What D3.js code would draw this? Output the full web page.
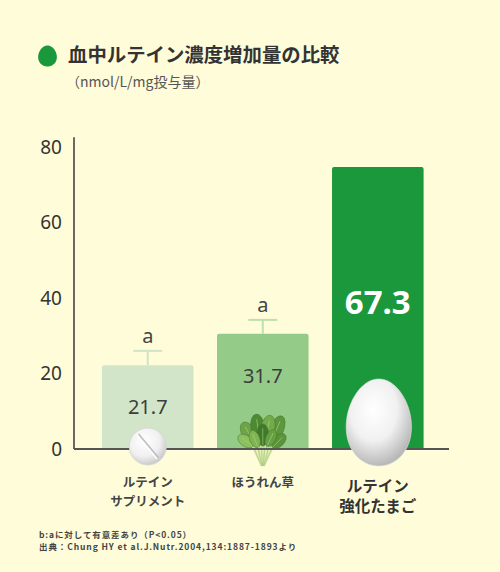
<!DOCTYPE html>
<html>
<head>
<meta charset="utf-8">
<script src="https://cdn.jsdelivr.net/npm/d3@7"></script>
<style>
	html, body { margin: 0; padding: 0; background: #fffcd9; }
	svg { display: block; font-family: "Noto Sans", "Noto Sans CJK JP", sans-serif; }
	.jp { font-family: "Noto Sans CJK JP", "Noto Sans", sans-serif; }
</style>
</head>
<body>
<div id="chart"></div>
<script>
const categories = ['supplement', 'spinach', 'egg']
const labelLines = [['ルテイン', 'サプリメント'], ['ほうれん草'], ['ルテイン', '強化たまご']]
const means = ['21.7', '31.7', '67.3']
// bar heights and error tops
const barHeights = [22.2, 30.5, 74.7]
const errTops = [26, 34.2, null]
const sigLetters = ['a', 'a', null]
const yTicks = [0, 20, 40, 60, 80]
const barColors = ['#d2e5c9', '#95cb89', '#1a983b']
const errColors = ['#cfe4c4', '#bde0b1', null]

const W = 500, H = 572

const $svg = d3.select('#chart').append('svg')
	.attr('width', W)
	.attr('height', H)

const defs = $svg.append('defs')

const eggGrad = defs.append('radialGradient')
	.attr('id', 'eggGrad')
	.attr('cx', '42%').attr('cy', '35%').attr('r', '65%')
eggGrad.append('stop').attr('offset', '0%').attr('stop-color', '#ffffff')
eggGrad.append('stop').attr('offset', '55%').attr('stop-color', '#f1f1f1')
eggGrad.append('stop').attr('offset', '100%').attr('stop-color', '#b9b9b9')

const pillGrad = defs.append('radialGradient')
	.attr('id', 'pillGrad')
	.attr('cx', '40%').attr('cy', '35%').attr('r', '70%')
pillGrad.append('stop').attr('offset', '0%').attr('stop-color', '#ffffff')
pillGrad.append('stop').attr('offset', '60%').attr('stop-color', '#f0f0f0')
pillGrad.append('stop').attr('offset', '100%').attr('stop-color', '#c4c4c4')

// Title

function eggPath(cx, cy, rx, ry) {
	const pts = d3.range(0, 64).map(i => {
		const t = i / 64 * Math.PI * 2
		return [cx + rx * Math.cos(t) * (1 + 0.1 * Math.sin(t)), cy + ry * Math.sin(t)]
	})
	return d3.line().curve(d3.curveCardinalClosed)(pts)
}

$svg.append('path')
	.attr('d', eggPath(47.5, 56, 9.3, 10.5))
	.attr('fill', '#1a983b')

$svg.append('text')
	.attr('class', 'jp')
	.attr('x', 68)
	.attr('y', 62)
	.attr('font-size', 19.4)
	.attr('font-weight', 700)
	.attr('fill', '#333')
	.text('血中ルテイン濃度増加量の比較')

$svg.append('text')
	.attr('class', 'jp')
	.attr('x', 66)
	.attr('y', 87)
	.attr('font-size', 14)
	.attr('fill', '#555')
	.text('（nmol/L/mg投与量）')

// Scales

const x = d3.scaleBand()
	.domain(categories)
	.range([74, 449])
	.paddingInner(0.204)
	.paddingOuter(0.232)
	.align(0.524)

const y = d3.scaleLinear()
	.domain([0, 80])
	.range([449, 147])

const bw = x.bandwidth()
const cx = d => x(d) + bw / 2

// Bars

const $bars = $svg.append('g')
$bars.selectAll('path')
	.data(categories)
	.enter()
	.append('path')
	.attr('d', (d, i) => {
		const x0 = x(d), x1 = x(d) + bw, y0 = y(0), y1 = y(barHeights[i]), r = 2
		return `M${x0},${y0}V${y1 + r}Q${x0},${y1} ${x0 + r},${y1}H${x1 - r}Q${x1},${y1} ${x1},${y1 + r}V${y0}Z`
	})
	.attr('fill', (d, i) => barColors[i])

// Error bars

const errData = categories.map((d, i) => ({ d, i })).filter(e => errTops[e.i] != null)
const $err = $svg.append('g')
$err.selectAll('line.v')
	.data(errData)
	.enter()
	.append('line')
	.attr('x1', e => cx(e.d)).attr('x2', e => cx(e.d))
	.attr('y1', e => y(barHeights[e.i])).attr('y2', e => y(errTops[e.i]))
	.attr('stroke', e => errColors[e.i])
	.attr('stroke-width', 2)
$err.selectAll('line.h')
	.data(errData)
	.enter()
	.append('line')
	.attr('x1', e => cx(e.d) - 14.5).attr('x2', e => cx(e.d) + 14.5)
	.attr('y1', e => y(errTops[e.i])).attr('y2', e => y(errTops[e.i]))
	.attr('stroke', e => errColors[e.i])
	.attr('stroke-width', 2)

$err.selectAll('text')
	.data(errData)
	.enter()
	.append('text')
	.attr('x', e => cx(e.d))
	.attr('y', e => y(errTops[e.i]) - 8)
	.attr('text-anchor', 'middle')
	.attr('font-size', 20)
	.attr('fill', '#444')
	.text(e => sigLetters[e.i])

// Value labels

$svg.append('g').selectAll('text')
	.data(categories)
	.enter()
	.append('text')
	.attr('x', d => cx(d))
	.attr('y', (d, i) => i < 2 ? y(barHeights[i]) + 49 : 314)
	.attr('text-anchor', 'middle')
	.attr('font-size', (d, i) => i < 2 ? 20 : 33)
	.attr('font-weight', (d, i) => i < 2 ? 400 : 700)
	.attr('fill', (d, i) => i < 2 ? '#3d3d3d' : '#fff')
	.text((d, i) => means[i])

// Axes

$svg.append('line')
	.attr('x1', 74).attr('x2', 74)
	.attr('y1', y(82.6)).attr('y2', y(0))
	.attr('stroke', '#444')
	.attr('stroke-width', 1.6)

const $yAxis = $svg.append('g')
	.attr('transform', 'translate(74,0)')
	.call(d3.axisLeft(y).tickValues(yTicks).tickSize(0).tickPadding(12))
$yAxis.select('.domain').remove()
$yAxis.selectAll('text')
	.attr('font-size', 19)
	.attr('font-family', '"Noto Sans", sans-serif')
	.attr('fill', '#333')

// spinach
const spX = cx('spinach'), spY = y(0)
const $sp = $svg.append('g').attr('transform', `translate(${spX},${spY})`)
const stems = [[-12, -8], [-7, -12], [-2, -14], [3, -13], [8, -10], [12, -6]]
stems.forEach(s => {
	$sp.append('path')
		.attr('d', `M${s[0] * 0.08},17 Q${s[0] * 0.5},6 ${s[0]},${s[1]}`)
		.attr('stroke', '#d6e6ab')
		.attr('stroke-width', 2.4)
		.attr('fill', 'none')
})
stems.forEach(s => {
	$sp.append('path')
		.attr('d', `M${s[0] * 0.08},17 Q${s[0] * 0.5},6 ${s[0]},${s[1]}`)
		.attr('stroke', '#9cbf6a')
		.attr('stroke-width', 0.5)
		.attr('fill', 'none')
})
const leaves = [
	[-14, -16, 7, 12, -30, '#6ea447'],
	[14, -20, 7, 14, 22, '#5d963c'],
	[-5, -22, 7, 13, -8, '#4e8a33'],
	[5, -21, 7, 13, 12, '#73aa4a'],
	[-17, -8, 5.5, 9, -55, '#8cbf5e'],
	[16, -8, 5.5, 9, 45, '#5a9339'],
	[0, -14, 6, 11, 0, '#3f7a2a'],
	[-8, -10, 5, 9, -20, '#7fb453'],
	[8, -11, 5, 9, 25, '#66a042']
]
leaves.forEach(l => {
	$sp.append('ellipse')
		.attr('transform', `translate(${l[0]},${l[1]}) rotate(${l[4]})`)
		.attr('rx', l[2]).attr('ry', l[3])
		.attr('fill', l[5])
		.attr('stroke', '#3d6f25')
		.attr('stroke-width', 0.4)
	$sp.append('line')
		.attr('transform', `translate(${l[0]},${l[1]}) rotate(${l[4]})`)
		.attr('x1', 0).attr('x2', 0).attr('y1', l[3] * 0.9).attr('y2', -l[3] * 0.6)
		.attr('stroke', '#a9cf7f')
		.attr('stroke-width', 0.6)
})

// baseline
$svg.append('line')
	.attr('x1', 74).attr('x2', 449)
	.attr('y1', y(0)).attr('y2', y(0))
	.attr('stroke', '#555')
	.attr('stroke-width', 2)

// egg on top of baseline
const eggX = cx('egg')
$svg.append('path')
	.attr('d', eggPath(eggX + 1, y(0) - 26.5, 32.5, 43.5))
	.attr('fill', 'url(#eggGrad)')
	.attr('stroke', '#e0e0e0')
	.attr('stroke-width', 0.6)

// pill overlaps baseline too
const pillX = cx('supplement'), pillY = y(0) - 2.5
$svg.append('circle')
	.attr('cx', pillX).attr('cy', pillY).attr('r', 18.5)
	.attr('fill', 'url(#pillGrad)')
	.attr('stroke', '#d4d4d4')
	.attr('stroke-width', 0.8)
$svg.append('g')
	.attr('transform', `translate(${pillX},${pillY}) rotate(50)`)
	.call(g => {
		g.append('line').attr('x1', -15.5).attr('x2', 15.5).attr('y1', -1).attr('y2', -1)
			.attr('stroke', '#bdbdbd').attr('stroke-width', 1.6)
		g.append('line').attr('x1', -15.5).attr('x2', 15.5).attr('y1', 1).attr('y2', 1)
			.attr('stroke', '#ffffff').attr('stroke-width', 1.4)
	})

// Category labels

const $cat = $svg.append('g')
categories.forEach((d, i) => {
	const big = i === 2
	labelLines[i].forEach((line, j) => {
		$cat.append('text')
			.attr('class', 'jp')
			.attr('x', cx(d))
			.attr('y', big ? 492 + j * 20 : 487 + j * 18.5)
			.attr('text-anchor', 'middle')
			.attr('font-size', big ? 15.5 : 12.5)
			.attr('font-weight', 700)
			.attr('fill', big ? '#333' : '#444')
			.text(line)
	})
})

// Footnote

const notes = ['b:aに対して有意差あり（P<0.05）', '出典：Chung HY et al.J.Nutr.2004,134:1887-1893より']
$svg.append('g').selectAll('text')
	.data(notes)
	.enter()
	.append('text')
	.attr('class', 'jp')
	.attr('x', 39)
	.attr('y', (d, i) => 537.5 + i * 12.5)
	.attr('font-size', 8.5)
	.attr('font-weight', 700)
	.attr('letter-spacing', 0.9)
	.attr('fill', '#444')
	.text(d => d)
</script>
</body>
</html>
